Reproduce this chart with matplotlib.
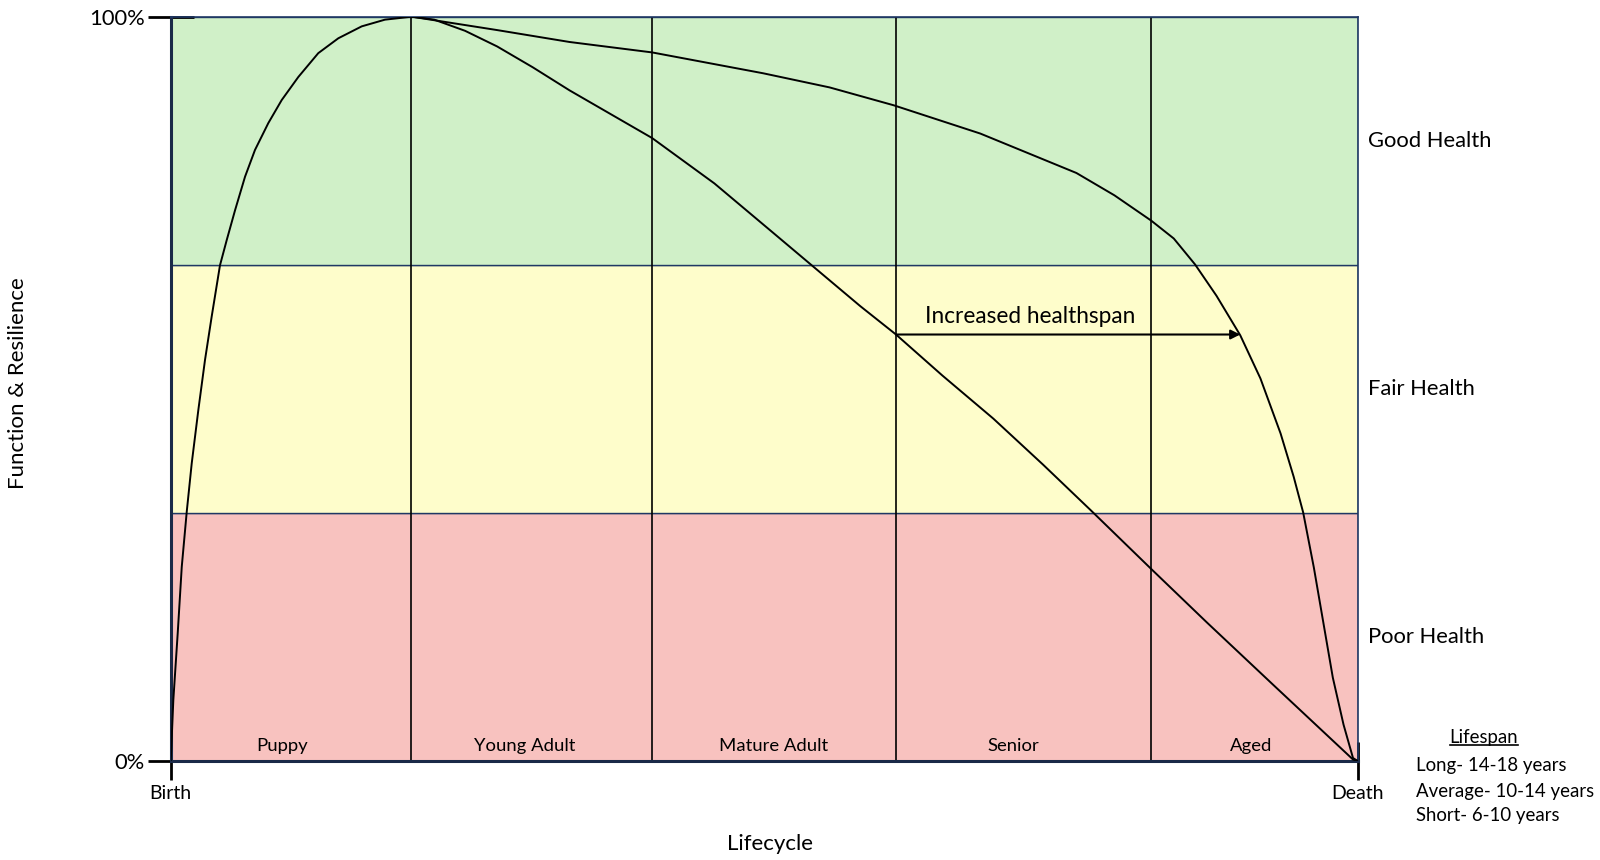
import matplotlib.pyplot as plt
from matplotlib.lines import Line2D

plt.rcParams['font.family'] = ['Lato', 'DejaVu Sans']

# health bands (y ranges in %)
band_names = ['Poor Health', 'Fair Health', 'Good Health']
band_edges = [0, 33.33, 66.67, 100]
band_colors = ['#F8C2BF', '#FEFDCB', '#D0F0C8']

# life stages (x in % of lifecycle)
stage_names = ['Puppy', 'Young Adult', 'Mature Adult', 'Senior', 'Aged']
stage_edges = [0, 20.24, 40.55, 61.1, 82.6, 100]
stage_label_x = [9.4, 29.8, 50.8, 71.0, 91.0]

# growth curve from birth to peak
rise_x = [0, 0.22, 0.59, 0.93, 1.35, 1.77, 2.33, 2.89, 3.45, 4.15, 4.72, 5.42, 6.26,
          7.10, 8.22, 9.35, 10.75, 12.43, 14.12, 16.09, 18.05, 19.74, 20.3]
rise_y = [0, 8.2, 17.2, 26.1, 33.5, 40.0, 47.2, 53.9, 59.7, 66.6, 70.0, 74.0, 78.5,
          82.1, 85.7, 88.8, 91.9, 95.1, 97.1, 98.7, 99.6, 99.9, 100]

# short healthspan decline
short_x = [20.3, 22.2, 24.8, 27.5, 30.5, 33.6, 40.55, 45.8, 50.5, 54.0, 58.1, 61.1,
           65.0, 69.3, 73.5, 77.5, 82.6, 87.3, 92.9, 99.6, 100]
short_y = [100, 99.6, 98.1, 96.0, 93.2, 90.1, 83.7, 77.6, 71.3, 66.6, 61.1, 57.3,
           51.8, 46.0, 39.8, 33.7, 25.8, 18.6, 10.2, 0.2, 0]

# long healthspan decline
long_x = [20.3, 27.5, 33.6, 40.55, 49.9, 55.5, 60.9, 68.2, 76.3, 79.5, 82.6, 84.5,
          86.3, 88.1, 90.1, 91.8, 93.5, 94.6, 95.4, 96.3, 97.1, 97.9, 98.8, 99.6, 100]
long_y = [100, 98.2, 96.6, 95.2, 92.4, 90.5, 88.1, 84.3, 79.0, 76.0, 72.6, 70.2,
          66.7, 62.5, 57.2, 51.4, 44.0, 38.2, 33.4, 26.0, 18.6, 11.2, 4.9, 0.4, 0]

arrow_from = (61.1, 57.3)
arrow_to = (90.1, 57.3)

lifespan_lines = ['Long- 14-18 years', 'Average- 10-14 years', 'Short- 6-10 years']

navy = '#1F3864'

fig = plt.figure(figsize=(16, 8.6), dpi=100)
ax = fig.add_axes([0.1067, 0.1151, 0.7419, 0.8655])
ax.set_xlim(0, 100)
ax.set_ylim(0, 100)

for i in range(3):
    ax.axhspan(band_edges[i], band_edges[i + 1], facecolor=band_colors[i],
               edgecolor=navy, linewidth=1.0, zorder=0)
    ax.text(1.009, (band_edges[i] + band_edges[i + 1]) / 200, band_names[i],
            transform=ax.transAxes, ha='left', va='center', fontsize=15.8)

for e in stage_edges[1:-1]:
    ax.axvline(e, color='black', linewidth=1.2, zorder=1)

for i, name in enumerate(stage_names):
    ax.text(stage_label_x[i], 2.0, name, ha='center', va='center', fontsize=13.3)

ax.plot(rise_x, rise_y, color='black', linewidth=1.4, zorder=3)
ax.plot(short_x, short_y, color='black', linewidth=1.4, zorder=3)
ax.plot(long_x, long_y, color='black', linewidth=1.4, zorder=3)

ax.annotate('', xy=arrow_to, xytext=arrow_from,
            arrowprops=dict(arrowstyle='-|>', color='black', lw=1.5,
                            mutation_scale=14, shrinkA=0, shrinkB=0), zorder=4)
ax.text(72.4, 58.3, 'Increased healthspan', ha='center', va='bottom', fontsize=16.3)

for side in ['top', 'right']:
    ax.spines[side].set_color(navy)
    ax.spines[side].set_linewidth(1.2)
for side in ['left', 'bottom']:
    ax.spines[side].set_color('#1a2a48')
    ax.spines[side].set_linewidth(2.2)

ax.set_yticks([0, 100])
ax.set_yticklabels(['0%', '100%'], fontsize=15.8)
ax.set_xticks([0, 100])
ax.set_xticklabels(['Birth', 'Death'], fontsize=14)
ax.tick_params(axis='y', direction='inout', length=33, width=2, color='black', pad=2)
ax.tick_params(axis='x', direction='inout', length=28, width=2, color='black', pad=3)

fig.text(770 / 1600, 1 - 844 / 860, 'Lifecycle', ha='center', va='center', fontsize=16)
fig.text(18.4 / 1600, 1 - 383 / 860, 'Function & Resilience', ha='center', va='center',
         rotation=90, fontsize=16)

# lifespan legend
title = fig.text(1484 / 1600, 1 - 738 / 860, 'Lifespan', ha='center', va='center', fontsize=13.4)
for i, line in enumerate(lifespan_lines):
    fig.text(1416 / 1600, 1 - (766 + 25 * i) / 860, line, ha='left', va='center', fontsize=13.4)

fig.canvas.draw()
bb = title.get_window_extent().transformed(fig.transFigure.inverted())
fig.add_artist(Line2D([bb.x0, bb.x1], [bb.y0 + 0.002, bb.y0 + 0.002],
                      transform=fig.transFigure, color='black', linewidth=1.2))

fig.savefig('out.png', dpi=100)
